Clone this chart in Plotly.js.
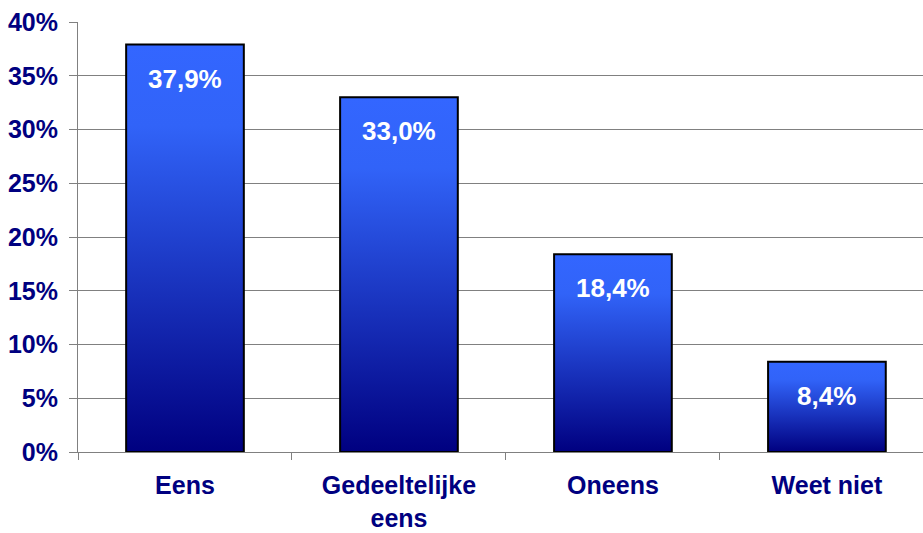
<!DOCTYPE html>
<html>
<head>
<meta charset="utf-8">
<script src="https://cdn.plot.ly/plotly-3.0.1.min.js"></script>
<style>html,body{margin:0;padding:0;background:#fff;}#chart{width:923px;height:533px;}</style>
</head>
<body>
<div id="chart"></div>
<script>
const categories = ["Eens", "Gedeeltelijke<br>eens", "Oneens", "Weet niet"];
const values = [37.9, 33.0, 18.4, 8.4];
const tickValues = [0, 5, 10, 15, 20, 25, 30, 35, 40];
const tickLabels = ["0%", "5%", "10%", "15%", "20%", "25%", "30%", "35%", "40%"];
const valueLabels = ["37,9%", "33,0%", "18,4%", "8,4%"];

const navy = "#000080";
const font = "Liberation Sans, Arial, sans-serif";

const trace = {
  type: "bar",
  x: categories,
  y: values,
  width: 0.55,
  marker: {color: "#2a55e0", line: {color: "#000000", width: 2}},
  hoverinfo: "none"
};

const annotations = values.map((v, i) => ({
  x: categories[i], y: v, xref: "x", yref: "y",
  text: valueLabels[i], showarrow: false,
  yanchor: "middle", yshift: -34,
  font: {family: font, size: 26, color: "#ffffff", weight: "bold"}
}));

const layout = {
  width: 923, height: 533,
  margin: {l: 78, r: 0, t: 22, b: 81},
  paper_bgcolor: "#ffffff", plot_bgcolor: "#ffffff",
  showlegend: false,
  separators: ",.",
  xaxis: {
    type: "category",
    range: [-0.5, 3.449],
    tickson: "boundaries",
    ticks: "outside", ticklen: 7, tickcolor: "#808080", tickwidth: 1,
    showline: true, linecolor: "#808080", linewidth: 1,
    showgrid: false, zeroline: false,
    ticklabelstandoff: 11,
    tickfont: {family: font, size: 25, color: navy, weight: "bold"},
    fixedrange: true
  },
  yaxis: {
    range: [0, 40],
    tickvals: tickValues, ticktext: tickLabels,
    ticks: "outside", ticklen: 8, tickcolor: "#808080", tickwidth: 1,
    showline: true, linecolor: "#808080", linewidth: 1,
    showgrid: true, gridcolor: "#808080", gridwidth: 1,
    zeroline: false,
    ticklabelstandoff: 6,
    tickfont: {family: font, size: 25, color: navy, weight: "bold"},
    fixedrange: true
  },
  annotations: annotations
};

Plotly.newPlot("chart", [trace], layout, {displayModeBar: false, staticPlot: true}).then(gd => {
  const svg = gd.querySelector("svg.main-svg");
  const ns = "http://www.w3.org/2000/svg";
  let defs = svg.querySelector("defs");
  if (!defs) { defs = document.createElementNS(ns, "defs"); svg.insertBefore(defs, svg.firstChild); }
  const grad = document.createElementNS(ns, "linearGradient");
  grad.setAttribute("id", "barGrad");
  grad.setAttribute("x1", "0"); grad.setAttribute("y1", "0");
  grad.setAttribute("x2", "0"); grad.setAttribute("y2", "1");
  [["0", "#3366ff"], ["0.2", "#3163f8"], ["1", "#000080"]].forEach(([o, c]) => {
    const s = document.createElementNS(ns, "stop");
    s.setAttribute("offset", o); s.setAttribute("stop-color", c);
    grad.appendChild(s);
  });
  defs.appendChild(grad);
  gd.querySelectorAll(".bars .point path").forEach(p => { p.style.fill = "url(#barGrad)"; });
});
</script>
</body>
</html>
